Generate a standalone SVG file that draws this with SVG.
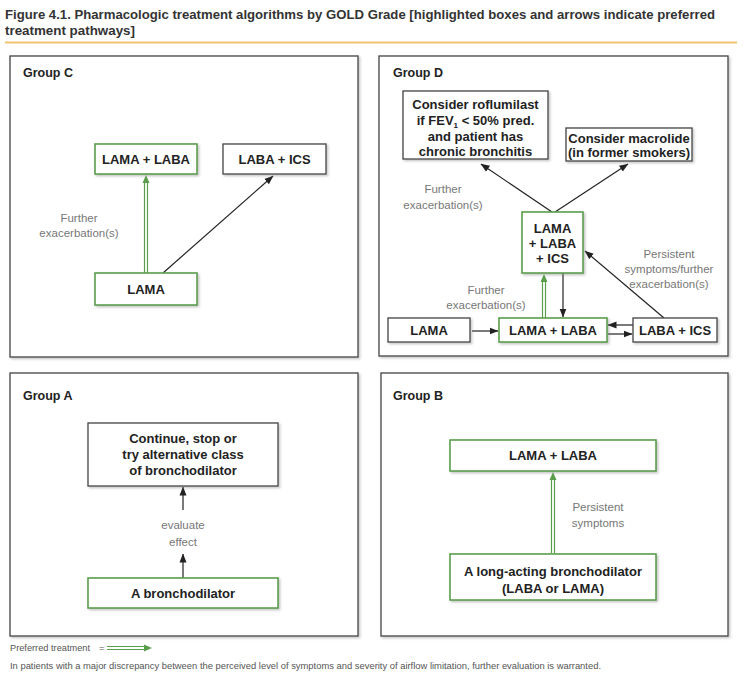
<svg xmlns="http://www.w3.org/2000/svg" width="748" height="680" viewBox="0 0 748 680">
<style>
.bg{fill:#fff}
.title{font-family:"Liberation Sans",Arial,sans-serif;font-weight:bold;font-size:13.5px;fill:#333}
.panel{fill:#fff;stroke:#444;stroke-width:1.3}
.glabel{font-family:"Liberation Sans",Arial,sans-serif;font-weight:bold;font-size:12.5px;fill:#222}
.box{fill:#fff;stroke:#444;stroke-width:1.3}
.gbox{fill:#fff;stroke:#5a9e4b;stroke-width:1.6}
.bt{font-family:"Liberation Sans",Arial,sans-serif;font-weight:bold;font-size:13px;fill:#222;text-anchor:middle}
.lab{font-family:"Liberation Sans",Arial,sans-serif;font-size:11.5px;fill:#777;text-anchor:middle}
.conn{stroke:#222;stroke-width:1.2;fill:none}
.g2{stroke:#5a9e4b;stroke-width:1.2;fill:none}
.gh{fill:#5a9e4b}
.foot{font-family:"Liberation Sans",Arial,sans-serif;font-size:9.5px;fill:#555}
</style>
<defs>
<filter id="sh" x="-10%" y="-10%" width="130%" height="140%">
<feDropShadow dx="1.5" dy="1.5" stdDeviation="1.2" flood-color="#888" flood-opacity="0.5"/>
</filter>
<marker id="ah" markerWidth="9" markerHeight="8" refX="8.5" refY="4" orient="auto" markerUnits="userSpaceOnUse">
<path d="M0,0.5 L9,4 L0,7.5 z" fill="#222"/>
</marker>
</defs>
<rect class="bg" x="0" y="0" width="748" height="680"/>

<g id="title">
<text class="title" x="5" y="19" textLength="710" lengthAdjust="spacingAndGlyphs">Figure 4.1. Pharmacologic treatment algorithms by GOLD Grade [highlighted boxes and arrows indicate preferred</text>
<text class="title" x="5" y="35" textLength="130" lengthAdjust="spacingAndGlyphs">treatment pathways]</text>
<line x1="5" y1="42.5" x2="737" y2="42.5" stroke="#f2c46e" stroke-width="2"/>
</g>

<g id="panels">
<rect class="panel" x="10" y="56" width="348" height="301" filter="url(#sh)"/>
<rect class="panel" x="379" y="56" width="349" height="300" filter="url(#sh)"/>
<rect class="panel" x="10" y="373" width="348" height="263" filter="url(#sh)"/>
<rect class="panel" x="381" y="373" width="347" height="263" filter="url(#sh)"/>
<text class="glabel" x="23" y="77">Group C</text>
<text class="glabel" x="393" y="77">Group D</text>
<text class="glabel" x="23" y="400">Group A</text>
<text class="glabel" x="393" y="400">Group B</text>
</g>

<g id="connectors">
<!-- Group C -->
<line class="g2" x1="144.5" y1="273" x2="144.5" y2="181"/>
<line class="g2" x1="147.5" y1="273" x2="147.5" y2="181"/>
<polygon class="gh" points="146,175 142.5,183 149.5,183"/>
<line class="conn" x1="163" y1="273" x2="273" y2="176" marker-end="url(#ah)"/>
<!-- Group D -->
<line class="conn" x1="552" y1="212" x2="481" y2="164" marker-end="url(#ah)"/>
<line class="conn" x1="555" y1="212" x2="628" y2="164" marker-end="url(#ah)"/>
<line class="g2" x1="542.5" y1="318" x2="542.5" y2="280"/>
<line class="g2" x1="545.5" y1="318" x2="545.5" y2="280"/>
<polygon class="gh" points="544,274 540.5,282 547.5,282"/>
<line class="conn" x1="563" y1="273" x2="563" y2="317" marker-end="url(#ah)"/>
<line class="conn" x1="472" y1="331" x2="498" y2="331" marker-end="url(#ah)"/>
<line class="conn" x1="633" y1="325" x2="608" y2="325" marker-end="url(#ah)"/>
<line class="conn" x1="608" y1="334" x2="632" y2="334" marker-end="url(#ah)"/>
<line class="conn" x1="664" y1="318" x2="585" y2="251" marker-end="url(#ah)"/>
<!-- Group A -->
<line class="conn" x1="183" y1="510" x2="183" y2="487" marker-end="url(#ah)"/>
<line class="conn" x1="183" y1="578" x2="183" y2="554" marker-end="url(#ah)"/>
<!-- Group B -->
<line class="g2" x1="551.5" y1="553" x2="551.5" y2="479"/>
<line class="g2" x1="554.5" y1="553" x2="554.5" y2="479"/>
<polygon class="gh" points="553,472 549.5,480 556.5,480"/>
</g>

<g id="labels">
<text class="lab" x="79" y="222">Further</text>
<text class="lab" x="79" y="237">exacerbation(s)</text>
<text class="lab" x="443" y="193">Further</text>
<text class="lab" x="443" y="209">exacerbation(s)</text>
<text class="lab" x="486" y="294">Further</text>
<text class="lab" x="486" y="309">exacerbation(s)</text>
<text class="lab" x="669" y="258">Persistent</text>
<text class="lab" x="669" y="273">symptoms/further</text>
<text class="lab" x="669" y="288">exacerbation(s)</text>
<text class="lab" x="183" y="529">evaluate</text>
<text class="lab" x="183" y="546">effect</text>
<text class="lab" x="598" y="511">Persistent</text>
<text class="lab" x="598" y="527">symptoms</text>
</g>

<g id="c-lama-laba">
<rect class="gbox" x="95" y="144" width="102" height="30" filter="url(#sh)"/>
<text class="bt" x="146" y="164">LAMA + LABA</text>
</g>
<g id="c-laba-ics">
<rect class="box" x="223" y="144" width="103" height="30" filter="url(#sh)"/>
<text class="bt" x="274.5" y="164">LABA + ICS</text>
</g>
<g id="c-lama">
<rect class="gbox" x="95" y="273" width="102" height="32" filter="url(#sh)"/>
<text class="bt" x="146" y="294">LAMA</text>
</g>

<g id="d-roflumilast">
<rect class="box" x="403" y="91" width="145" height="68" filter="url(#sh)"/>
<text class="bt" x="475.5" y="109">Consider roflumilast</text>
<text class="bt" x="475.5" y="125">if FEV<tspan font-size="8" dy="3">1</tspan><tspan dy="-3"> &lt; 50% pred.</tspan></text>
<text class="bt" x="475.5" y="141">and patient has</text>
<text class="bt" x="475.5" y="156">chronic bronchitis</text>
</g>
<g id="d-macrolide">
<rect class="box" x="566" y="128" width="126" height="33" filter="url(#sh)"/>
<text class="bt" x="629" y="143">Consider macrolide</text>
<text class="bt" x="629" y="157">(in former smokers)</text>
</g>
<g id="d-triple">
<rect class="gbox" x="522" y="212" width="61" height="61" filter="url(#sh)"/>
<text class="bt" x="552.5" y="233">LAMA</text>
<text class="bt" x="552.5" y="248">+ LABA</text>
<text class="bt" x="552.5" y="263">+ ICS</text>
</g>
<g id="d-lama">
<rect class="box" x="388" y="318" width="82" height="24" filter="url(#sh)"/>
<text class="bt" x="429" y="335">LAMA</text>
</g>
<g id="d-lama-laba">
<rect class="gbox" x="499" y="318" width="108" height="24" filter="url(#sh)"/>
<text class="bt" x="553" y="335">LAMA + LABA</text>
</g>
<g id="d-laba-ics">
<rect class="box" x="633" y="318" width="84" height="24" filter="url(#sh)"/>
<text class="bt" x="675" y="335">LABA + ICS</text>
</g>

<g id="a-continue">
<rect class="box" x="88" y="423" width="190" height="63" filter="url(#sh)"/>
<text class="bt" x="183" y="443">Continue, stop or</text>
<text class="bt" x="183" y="459">try alternative class</text>
<text class="bt" x="183" y="475">of bronchodilator</text>
</g>
<g id="a-bronchodilator">
<rect class="gbox" x="88" y="578" width="190" height="30" filter="url(#sh)"/>
<text class="bt" x="183" y="598">A bronchodilator</text>
</g>

<g id="b-lama-laba">
<rect class="gbox" x="450" y="440" width="206" height="31" filter="url(#sh)"/>
<text class="bt" x="553" y="460">LAMA + LABA</text>
</g>
<g id="b-long-acting">
<rect class="gbox" x="450" y="554" width="206" height="46" filter="url(#sh)"/>
<text class="bt" x="553" y="576">A long-acting bronchodilator</text>
<text class="bt" x="553" y="593">(LABA or LAMA)</text>
</g>

<g id="footer">
<text class="foot" x="10" y="651" textLength="80" lengthAdjust="spacingAndGlyphs">Preferred treatment</text>
<text class="foot" x="99" y="651">=</text>
<line class="g2" x1="107" y1="646.5" x2="145" y2="646.5"/>
<line class="g2" x1="107" y1="649.5" x2="145" y2="649.5"/>
<polygon class="gh" points="152,648 144,644.5 144,651.5"/>
<text class="foot" x="10" y="669" textLength="591" lengthAdjust="spacingAndGlyphs">In patients with a major discrepancy between the perceived level of symptoms and severity of airflow limitation, further evaluation is warranted.</text>
</g>
</svg>
